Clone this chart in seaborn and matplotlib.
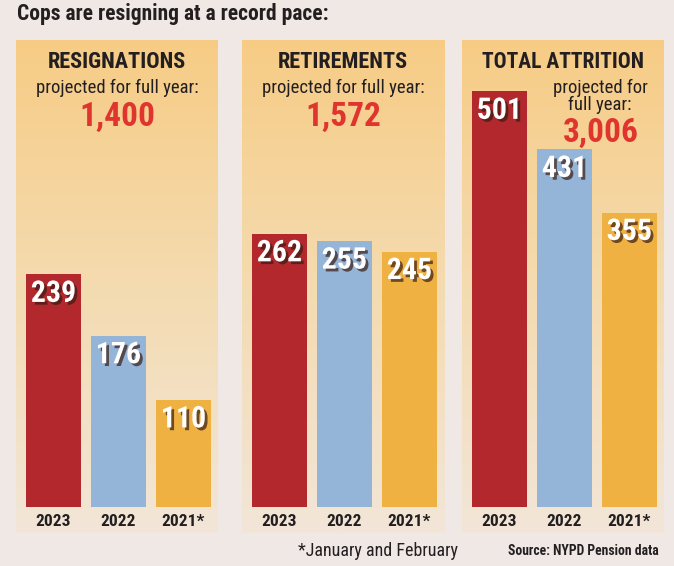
import numpy as np
import matplotlib
matplotlib.use("Agg")
import matplotlib.pyplot as plt
import matplotlib.patheffects as pe
from matplotlib.colors import LinearSegmentedColormap
import seaborn as sns

# data
panel_titles = ["RESIGNATIONS", "RETIREMENTS", "TOTAL ATTRITION"]
years = ["2023", "2022", "2021*"]
resignations = [239, 176, 110]
retirements = [262, 255, 245]
attrition = [501, 431, 355]
projected = ["1,400", "1,572", "3,006"]
bar_colors = ["#b2282d", "#94b4d8", "#efb242"]

W, H = 674, 566
sns.set_theme(style="white")
plt.rcParams["font.family"] = ["Roboto Condensed", "DejaVu Sans"]
DARK = "#231f20"
RED = "#e0352f"

fig = plt.figure(figsize=(W / 100, H / 100), dpi=100, facecolor="#efe8e5")


def fx(px):
    return px / W


def fy(py):
    return 1 - py / H


grad = LinearSegmentedColormap.from_list("bg", ["#f7cc85", "#f4dbb0", "#f2e6d8"])
panel_left = [16, 242, 462]
panel_w = 202
ylims = [480, 448, 563]
all_vals = [resignations, retirements, attrition]

for i, vals in enumerate(all_vals):
    x0 = panel_left[i]
    # gradient panel background
    bg = fig.add_axes([fx(x0), fy(533), fx(panel_w), (533 - 40) / H])
    bg.imshow(np.linspace(0, 1, 200).reshape(-1, 1), aspect="auto", cmap=grad,
              extent=[0, 1, 0, 1], origin="upper")
    bg.set_axis_off()

    ax = fig.add_axes([fx(x0), fy(507), fx(panel_w), (507 - 40) / H])
    ax.patch.set_alpha(0)
    sns.barplot(x=years, y=vals, hue=years, palette=bar_colors, width=55 / 65,
                saturation=1, legend=False, linewidth=0, ax=ax)
    ax.set_xlim(-37.5 / 65, (panel_w - 37.5) / 65)
    ax.set_ylim(0, ylims[i])
    ax.set_yticks([])
    ax.set_xlabel("")
    for s in ax.spines.values():
        s.set_visible(False)
    ax.tick_params(axis="x", length=0, pad=5)
    for lab in ax.get_xticklabels():
        lab.set_fontweight("bold")
        lab.set_fontsize(12.5)
        lab.set_color(DARK)
    for j, v in enumerate(vals):
        ax.annotate(str(v), (j, v), xytext=(0, -14), textcoords="offset points",
                    ha="center", va="center", fontsize=21.5, fontweight="bold",
                    color="white",
                    path_effects=[pe.withSimplePatchShadow(offset=(2, -2),
                                                           shadow_rgbFace="#3a1c12",
                                                           alpha=0.7)])

# panel header texts
for i in range(2):
    cx = panel_left[i] + panel_w / 2
    fig.text(fx(cx), fy(62), panel_titles[i], ha="center", va="center",
             fontsize=16, fontweight="bold", color=DARK)
    fig.text(fx(cx), fy(88), "projected for full year:", ha="center",
             va="center", fontsize=13.5, color=DARK)
    fig.text(fx(cx), fy(117), projected[i], ha="center", va="center",
             fontsize=24, fontweight="bold", color=RED)

cx = panel_left[2] + panel_w / 2
fig.text(fx(cx), fy(62), panel_titles[2], ha="center", va="center",
         fontsize=15.5, fontweight="bold", color=DARK)
fig.text(fx(600), fy(88), "projected for", ha="center", va="center",
         fontsize=13.5, color=DARK)
fig.text(fx(600), fy(105), "full year:", ha="center", va="center",
         fontsize=13.5, color=DARK)
fig.text(fx(601), fy(133), projected[2], ha="center", va="center",
         fontsize=24, fontweight="bold", color=RED)

# title and footnotes
fig.text(fx(17), fy(14), "Cops are resigning at a record pace:", ha="left",
         va="center", fontsize=15.5, fontweight="bold", color=DARK)
fig.text(fx(298), fy(551), "*January and February", ha="left", va="center",
         fontsize=13, color=DARK)
fig.text(fx(659), fy(551), "Source: NYPD Pension data", ha="right",
         va="center", fontsize=9.8, fontweight="bold", color=DARK)

fig.savefig("out.png", dpi=100, facecolor=fig.get_facecolor())
